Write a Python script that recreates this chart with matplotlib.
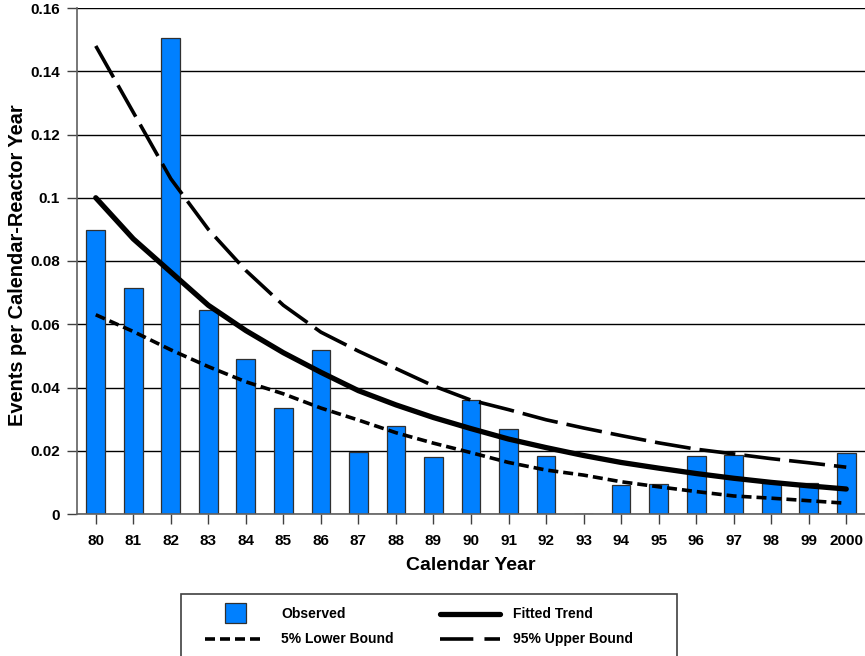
import matplotlib
matplotlib.use("Agg")
import matplotlib.pyplot as plt
from matplotlib.lines import Line2D
from matplotlib.patches import Rectangle

plt.rcParams['font.family'] = ['Liberation Sans', 'DejaVu Sans']
plt.rcParams['font.weight'] = 'bold'
plt.rcParams['lines.scale_dashes'] = False

# Calendar years and observed event rates
years = ['80', '81', '82', '83', '84', '85', '86', '87', '88', '89', '90',
         '91', '92', '93', '94', '95', '96', '97', '98', '99', '2000']
observed = [0.0898, 0.0715, 0.1505, 0.0645, 0.0490, 0.0335, 0.0517, 0.0196,
            0.0279, 0.0180, 0.0360, 0.0270, 0.0182, 0.0000, 0.0092, 0.0094,
            0.0182, 0.0188, 0.0098, 0.0097, 0.0193]

# Fitted trend and its 5% / 95% bounds
fitted = [0.1000, 0.0870, 0.0765, 0.0660, 0.0580, 0.0510, 0.0448, 0.0390,
          0.0345, 0.0305, 0.0270, 0.0237, 0.0210, 0.0185, 0.0163, 0.0145,
          0.0128, 0.0113, 0.0100, 0.0089, 0.0079]
lower = [0.0630, 0.0577, 0.0519, 0.0466, 0.0418, 0.0380, 0.0335, 0.0297,
         0.0257, 0.0224, 0.0194, 0.0163, 0.0139, 0.0123, 0.0102, 0.0086,
         0.0071, 0.0057, 0.0050, 0.0042, 0.0034]
upper = [0.1480, 0.1270, 0.1060, 0.0900, 0.0770, 0.0660, 0.0575, 0.0515,
         0.0460, 0.0405, 0.0360, 0.0330, 0.0298, 0.0272, 0.0248, 0.0225,
         0.0205, 0.0190, 0.0175, 0.0162, 0.0148]

yticks = [0, 0.02, 0.04, 0.06, 0.08, 0.1, 0.12, 0.14, 0.16]
ytick_labels = ['0', '0.02', '0.04', '0.06', '0.08', '0.1', '0.12', '0.14', '0.16']

W, H = 865, 656
fig = plt.figure(figsize=(W / 100, H / 100), dpi=100)
ax_bottom, ax_top = 514, 8
ax = fig.add_axes([77 / W, 1 - ax_bottom / H, (865 - 77) / W,
                   (ax_bottom - ax_top) / H])

x = list(range(len(years)))
bar_color = '#0080ff'
lower_dash = (7.2, 3.6)
upper_dash = (26, 6.5)

ax.set_axisbelow(True)
ax.grid(axis='y', color='black', linewidth=1.0)
ax.bar(x, observed, width=0.5, color=bar_color, edgecolor='#303030',
       linewidth=0.9, zorder=2)

ax.plot(x, fitted, color='black', linewidth=3.8, solid_capstyle='round',
        zorder=4)
ax.plot(x, lower, color='black', linewidth=2.6, dashes=lower_dash,
        dash_capstyle='butt', zorder=4)
ax.plot(x, upper, color='black', linewidth=2.6, dashes=upper_dash,
        dash_capstyle='butt', zorder=4)

ax.set_xlim(-0.5, 20.5)
ax.set_ylim(0, 0.16)
ax.set_xticks(x)
ax.set_xticklabels(years)
ax.set_yticks(yticks)
ax.set_yticklabels(ytick_labels)
ax.tick_params(axis='both', direction='out', length=7.2, width=1.0,
               color='#404040', labelsize=11, pad=5)
ax.tick_params(axis='x', pad=7)

for side in ('top', 'right'):
    ax.spines[side].set_visible(False)
for side in ('left', 'bottom'):
    ax.spines[side].set_color('#606060')
    ax.spines[side].set_linewidth(1.2)

ax_h = ax_bottom - ax_top
ax.set_xlabel('Calendar Year', fontsize=14, fontweight='bold',
              va='center')
ax.xaxis.set_label_coords(0.5, (ax_bottom - 565) / ax_h)
ax.set_ylabel('Events per Calendar-Reactor Year', fontsize=14.4,
              fontweight='bold', va='center')
ax.yaxis.set_label_coords((18 - 77) / 788, (ax_bottom - 265) / ax_h)

# Legend box drawn in figure pixel coordinates
def fx(px):
    return px / W

def fy(py):
    return 1 - py / H

box = Rectangle((fx(181), fy(700)), fx(677) - fx(181), fy(594) - fy(700),
                transform=fig.transFigure, facecolor='white',
                edgecolor='#404040', linewidth=1.2, clip_on=False)
fig.add_artist(box)

row1, row2 = 614, 639
fig.add_artist(Rectangle((fx(225), fy(623)), fx(246) - fx(225),
                         fy(603) - fy(623), transform=fig.transFigure,
                         facecolor=bar_color, edgecolor='#303030',
                         linewidth=0.9))
fig.add_artist(Line2D([fx(440), fx(500)], [fy(row1), fy(row1)],
                      transform=fig.transFigure, color='black',
                      linewidth=3.8, solid_capstyle='round'))
fig.add_artist(Line2D([fx(205), fx(260)], [fy(row2), fy(row2)],
                      transform=fig.transFigure, color='black',
                      linewidth=2.6, dashes=lower_dash, dash_capstyle='butt'))
fig.add_artist(Line2D([fx(440), fx(500)], [fy(row2), fy(row2)],
                      transform=fig.transFigure, color='black',
                      linewidth=2.6, dashes=(24, 8), dash_capstyle='butt'))

leg_font = dict(fontsize=10, fontweight='bold', va='center', ha='left')
fig.text(fx(281), fy(row1), 'Observed', **leg_font)
fig.text(fx(513), fy(row1), 'Fitted Trend', **leg_font)
fig.text(fx(281), fy(row2), '5% Lower Bound', **leg_font)
fig.text(fx(513), fy(row2), '95% Upper Bound', **leg_font)

fig.savefig('out.png', dpi=100)
